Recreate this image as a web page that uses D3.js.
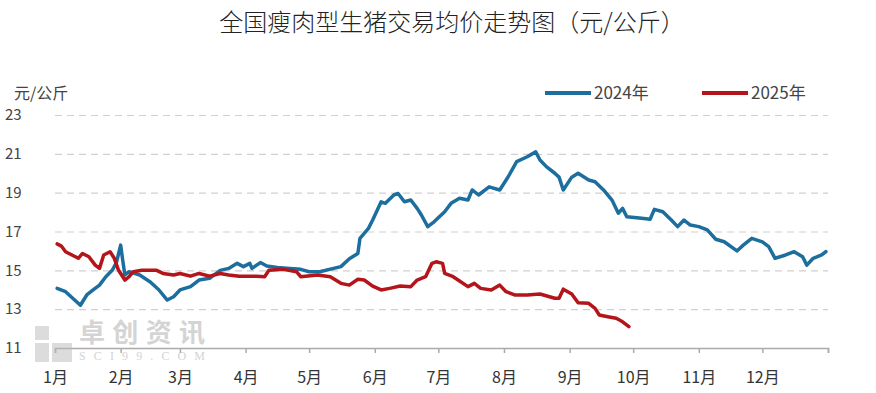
<!DOCTYPE html>
<html>
<head>
<meta charset="utf-8">
<script src="https://cdn.jsdelivr.net/npm/d3@7"></script>
<style>
  html, body { margin: 0; padding: 0; background: #fff; }
  text { font-family: "Noto Sans CJK SC", "Noto Sans", sans-serif; }
</style>
</head>
<body>
<div id="wrapper"></div>
<script>
const dates2024 = ['01-02','01-06','01-13','01-16','01-19','01-22','01-25','01-28','01-30','02-01','02-02','02-03','02-05','02-10','02-15','02-19','02-23','02-26','03-01','03-06','03-10','03-15','03-20','03-24','03-28','03-31','04-03','04-04','04-08','04-11','04-16','04-22','04-27','05-01','05-06','05-16','05-20','05-24','05-25','05-29','05-31','06-04','06-06','06-10','06-12','06-15','06-18','06-21','06-23','06-26','06-29','07-04','07-07','07-11','07-15','07-17','07-20','07-25','07-30','08-03','08-07','08-12','08-16','08-18','08-21','08-25','08-27','08-29','09-02','09-05','09-10','09-13','09-17','09-21','09-24','09-26','09-28','10-05','10-09','10-11','10-15','10-19','10-22','10-25','10-28','11-01','11-05','11-09','11-13','11-19','11-22','11-26','12-01','12-04','12-07','12-12','12-16','12-20','12-22','12-25','12-29','12-31'];
const values2024 = [14.07,13.9,13.2,13.73,13.99,14.24,14.67,15.0,15.4,16.3,15.5,14.76,14.93,14.76,14.4,14.0,13.47,13.64,13.99,14.16,14.5,14.59,15.0,15.1,15.36,15.19,15.36,15.1,15.4,15.22,15.15,15.1,15.05,14.93,14.93,15.19,15.6,15.87,16.65,17.16,17.59,18.53,18.45,18.88,18.96,18.53,18.62,18.19,17.85,17.25,17.5,18.02,18.45,18.71,18.62,19.14,18.88,19.3,19.14,19.82,20.6,20.85,21.1,20.68,20.34,20.0,19.8,19.14,19.8,20.0,19.65,19.56,19.14,18.62,17.94,18.19,17.76,17.68,17.63,18.14,18.02,17.59,17.25,17.59,17.33,17.25,17.08,16.6,16.47,16.0,16.3,16.65,16.47,16.22,15.62,15.79,15.96,15.7,15.27,15.62,15.79,15.96];

const dates2025 = ['01-02','01-04','01-06','01-09','01-12','01-14','01-17','01-20','01-22','01-24','01-27','01-29','01-31','02-03','02-05','02-07','02-11','02-18','02-21','02-26','03-01','03-06','03-10','03-15','03-20','03-24','03-29','04-06','04-10','04-12','04-19','04-25','04-27','05-05','05-11','05-16','05-20','05-24','05-27','05-31','06-04','06-08','06-13','06-18','06-21','06-25','06-28','06-30','07-03','07-04','07-08','07-15','07-18','07-21','07-26','07-30','08-02','08-06','08-12','08-18','08-25','08-27','08-29','09-02','09-05','09-10','09-13','09-15','09-19','09-23','09-26','09-29'];
const values2025 = [16.36,16.25,15.96,15.79,15.62,15.87,15.7,15.27,15.1,15.79,15.96,15.62,15.0,14.5,14.67,14.93,15.0,15.0,14.84,14.76,14.84,14.7,14.84,14.7,14.84,14.76,14.7,14.7,14.67,15.0,15.05,14.93,14.67,14.76,14.67,14.33,14.24,14.54,14.5,14.19,13.99,14.07,14.19,14.16,14.5,14.67,15.36,15.44,15.36,14.84,14.67,14.16,14.33,14.07,13.99,14.24,13.9,13.73,13.73,13.78,13.56,13.56,14.03,13.78,13.33,13.3,13.04,12.7,12.61,12.53,12.35,12.1];

const yTicks = [11, 13, 15, 17, 19, 21, 23];
const monthLabels = ['1月','2月','3月','4月','5月','6月','7月','8月','9月','10月','11月','12月'];
const seriesNames = ['2024年', '2025年'];
const colors = ['#1c6e9e', '#b3151b'];

const dimensions = {
    width: 876,
    height: 393,
    margin: { top: 115, right: 48, bottom: 45, left: 55 }
};
dimensions.boundedWidth = dimensions.width - dimensions.margin.left - dimensions.margin.right;
dimensions.boundedHeight = dimensions.height - dimensions.margin.top - dimensions.margin.bottom;

const parseDate = d3.timeParse('%Y-%m-%d');
const toDate = s => parseDate('2001-' + s);

const series = [
    dates2024.map((d, i) => ({ date: toDate(d), value: values2024[i] })),
    dates2025.map((d, i) => ({ date: toDate(d), value: values2025[i] }))
];

const svg = d3.select('#wrapper')
    .append('svg')
    .attr('width', dimensions.width)
    .attr('height', dimensions.height);

const bounds = svg.append('g')
    .attr('transform', `translate(${dimensions.margin.left},${dimensions.margin.top})`);

const xScale = d3.scaleTime()
    .domain([new Date(2001, 0, 1), new Date(2002, 0, 1)])
    .range([0, dimensions.boundedWidth]);

const yScale = d3.scaleLinear()
    .domain([11, 23])
    .range([dimensions.boundedHeight, 0]);

// title
svg.append('text')
    .attr('x', 452)
    .attr('y', 31)
    .attr('text-anchor', 'middle')
    .attr('fill', '#222')
    .style('font-size', '24px')
    .style('font-weight', 300)
    .text('全国瘦肉型生猪交易均价走势图（元/公斤）');

// unit
svg.append('text')
    .attr('x', 14)
    .attr('y', 99)
    .attr('fill', '#444')
    .style('font-size', '16px')
    .text('元/公斤');

// watermark
const wm = svg.append('g').attr('opacity', 0.5);
wm.append('rect').attr('x', 35).attr('y', 326).attr('width', 14).attr('height', 14).attr('fill', '#bbb');
wm.append('rect').attr('x', 35).attr('y', 343).attr('width', 14).attr('height', 19).attr('fill', '#bbb');
wm.append('rect').attr('x', 52).attr('y', 343).attr('width', 20).attr('height', 19).attr('fill', '#bbb');
wm.append('text').attr('x', 79).attr('y', 342)
    .attr('fill', '#aaa').style('font-size', '26px').style('font-weight', 'bold')
    .attr('textLength', 126)
    .text('卓创资讯');
wm.append('text').attr('x', 79).attr('y', 360)
    .attr('fill', '#aaa').style('font-size', '12px')
    .style('font-family', '"Liberation Serif", serif')
    .attr('textLength', 126)
    .text('SCI99.COM');

// grid
const yAxisGenerator = d3.axisLeft(yScale)
    .tickValues(yTicks)
    .tickSize(0)
    .tickPadding(0);

const yAxis = bounds.append('g').call(yAxisGenerator);
yAxis.select('.domain').remove();
yAxis.selectAll('.tick text')
    .attr('x', -50)
    .attr('text-anchor', 'start')
    .attr('fill', '#444')
    .style('font-size', '15px');
yAxis.selectAll('.tick')
    .filter(d => d !== 11)
    .append('line')
    .attr('x1', 0)
    .attr('x2', dimensions.boundedWidth)
    .attr('stroke', '#d0d0d0')
    .attr('stroke-width', 1.2)
    .attr('stroke-dasharray', '7,5');

// x axis
const monthStarts = d3.range(0, 13).map(m => new Date(2001, m, 1));
const xAxisGenerator = d3.axisBottom(xScale)
    .tickValues(monthStarts)
    .tickSize(5)
    .tickPadding(19)
    .tickFormat((d, i) => monthLabels[i] || '');

const xAxis = bounds.append('g')
    .attr('transform', `translate(0,${dimensions.boundedHeight})`)
    .call(xAxisGenerator);
xAxis.select('.domain').attr('stroke', '#aaa').attr('stroke-width', 1.5);
xAxis.selectAll('.tick line').attr('stroke', '#aaa').attr('stroke-width', 1.5);
xAxis.selectAll('.tick text')
    .attr('fill', '#333')
    .style('font-size', '16px');

// lines
const lineGenerator = d3.line()
    .x(d => xScale(d.date))
    .y(d => yScale(d.value));

bounds.selectAll('.series')
    .data(series)
    .enter()
    .append('path')
    .attr('class', 'series')
    .attr('d', lineGenerator)
    .attr('fill', 'none')
    .attr('stroke', (d, i) => colors[i])
    .attr('stroke-width', 3.5)
    .attr('stroke-linejoin', 'round')
    .attr('stroke-linecap', 'round');

// legend
const legend = svg.append('g');
const legendX = [545, 702];
seriesNames.forEach((name, i) => {
    legend.append('line')
        .attr('x1', legendX[i]).attr('x2', legendX[i] + 46)
        .attr('y1', 93).attr('y2', 93)
        .attr('stroke', colors[i])
        .attr('stroke-width', 4);
    legend.append('text')
        .attr('x', legendX[i] + 49)
        .attr('y', 99)
        .attr('fill', '#444')
        .style('font-size', '17px')
        .text(name);
});
</script>
</body>
</html>
